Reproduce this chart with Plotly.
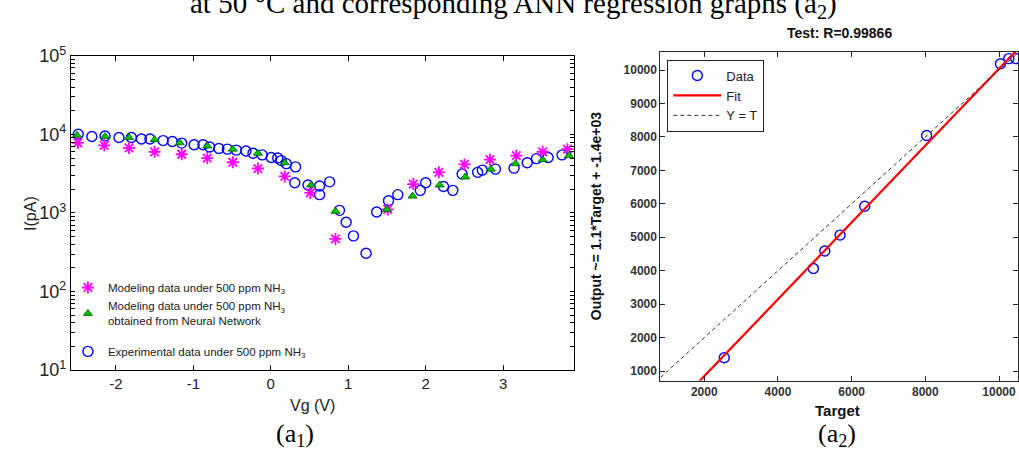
import plotly.graph_objects as go

W, H = 1019, 463

# ---------------- data: left panel (a1) ----------------
exp_v = [-2.486, -2.31, -2.14, -1.96, -1.80, -1.67, -1.56, -1.39, -1.27, -1.15, -0.99, -0.875,
         -0.79, -0.67, -0.56, -0.445, -0.32, -0.23, -0.11, 0.006, 0.09, 0.135, 0.20, 0.32, 0.31,
         0.48, 0.63, 0.63, 0.76, 0.887, 0.973, 1.067, 1.23, 1.367, 1.52, 1.64, 1.93, 2.00, 2.23,
         2.35, 2.47, 2.67, 2.73, 2.90, 3.14, 3.31, 3.43, 3.58, 3.76]
exp_I = [10050, 9400, 9550, 9140, 9140, 8750, 8750, 8340, 8110, 7750, 7390, 7390,
         6920, 6600, 6490, 6310, 6140, 5760, 5480, 5090, 5000, 4640, 4240, 3860, 2420,
         2270, 2200, 1710, 2490, 1080, 762, 511, 307, 1030, 1430, 1710, 1940, 2420, 2170,
         1940, 3140, 3290, 3510, 3610, 3720, 4350, 4910, 5090, 5480]

ann_v = [-2.50, -2.14, -1.83, -1.50, -1.175, -0.82, -0.49, -0.166, 0.18, 0.52, 0.835,
         1.50, 1.83, 2.18, 2.51, 2.84, 3.16, 3.51, 3.85]
ann_I = [9770, 9400, 9140, 8570, 7820, 7110, 6490, 5760, 4350, 2270, 1050,
         1110, 1640, 2270, 2870, 3610, 4240, 4770, 5380]

mod_v = [-2.49, -2.15, -1.83, -1.50, -1.15, -0.82, -0.49, -0.166, 0.18, 0.51, 0.835,
         1.51, 1.84, 2.17, 2.50, 2.83, 3.17, 3.51, 3.83]
mod_I = [7820, 7260, 6730, 6010, 5590, 5000, 4420, 3680, 2920, 1800, 467,
         1110, 2330, 3290, 4150, 4770, 5380, 6010, 6490]

left_xticks = [-2, -1, 0, 1, 2, 3]
left_xticktext = ["-2", "-1", "0", "1", "2", "3"]
left_yticks = [10, 100, 1000, 10000, 100000]
left_yticktext = ["10<sup>1</sup>", "10<sup>2</sup>", "10<sup>3</sup>", "10<sup>4</sup>", "10<sup>5</sup>"]
left_yminor = [m * d for d in (10, 100, 1000, 10000) for m in range(2, 10)]

# ---------------- data: right panel (a2) ----------------
target = [2542, 4962, 5271, 5686, 6355, 8035, 10038, 10266, 10455]
output = [1399, 4068, 4590, 5066, 5929, 8043, 10190, 10342, 10342]
fit_slope = 1.149
fit_intercept = -1449
right_xrange = [808, 10515]
right_yrange = [715, 10540]
right_xticks = [2000, 4000, 6000, 8000, 10000]
right_xticktext = ["2000", "4000", "6000", "8000", "10000"]
right_yticks = [1000, 2000, 3000, 4000, 5000, 6000, 7000, 8000, 9000, 10000]
right_yticktext = ["1000", "2000", "3000", "4000", "5000", "6000", "7000", "8000", "9000", "10000"]


def px(x):
    return x / W


def py(y):
    return 1 - y / H


fig = go.Figure()

NH3 = "NH<sub>3</sub>"
fig.add_trace(go.Scatter(
    x=exp_v, y=exp_I, mode="markers", xaxis="x", yaxis="y",
    name="Experimental data under 500 ppm " + NH3, legend="legend", legendgroup="g2",
    legendrank=3,
    marker=dict(symbol="circle-open", size=10, color="#0000ff",
                line=dict(color="#0000ff", width=1.4))))
fig.add_trace(go.Scatter(
    x=mod_v, y=mod_I, mode="markers", xaxis="x", yaxis="y",
    name="Modeling data under 500 ppm " + NH3, legend="legend", legendgroup="g1",
    legendrank=1,
    marker=dict(symbol="asterisk-open", size=10, color="#ff00ff",
                line=dict(color="#ff00ff", width=1.8))))
fig.add_trace(go.Scatter(
    x=ann_v, y=ann_I, mode="markers", xaxis="x", yaxis="y",
    name="Modeling data under 500 ppm " + NH3 + "<br>obtained from Neural Network",
    legend="legend", legendgroup="g1", legendrank=2,
    marker=dict(symbol="triangle-up", size=8, color="#00c000",
                line=dict(color="#006000", width=0.8))))

# right panel
fig.add_trace(go.Scatter(
    x=target, y=output, mode="markers", xaxis="x2", yaxis="y2", name="Data",
    legend="legend2",
    marker=dict(symbol="circle-open", size=10, color="#0000ff",
                line=dict(color="#0000ff", width=1.4))))
fig.add_trace(go.Scatter(
    x=right_xrange, y=[fit_slope * t + fit_intercept for t in right_xrange],
    mode="lines", xaxis="x2", yaxis="y2", name="Fit", legend="legend2",
    line=dict(color="#ff0000", width=2.2)))
fig.add_trace(go.Scatter(
    x=right_xrange, y=right_xrange, mode="lines", xaxis="x2", yaxis="y2",
    name="Y = T", legend="legend2",
    line=dict(color="#333333", width=1, dash="4px,3px")))

axis_common = dict(showgrid=False, zeroline=False, showline=True, mirror="ticks",
                   ticks="inside")

fig.update_layout(
    width=W, height=H,
    margin=dict(l=0, r=0, t=0, b=0),
    paper_bgcolor="white", plot_bgcolor="white",
    font=dict(family="Liberation Sans, Arial", color="black"),
    xaxis=dict(domain=[px(71), px(575)], range=[-2.58, 3.92], anchor="y",
               tickvals=left_xticks, ticktext=left_xticktext, ticklen=5,
               linecolor="black", tickcolor="black",
               linewidth=1, tickfont=dict(size=15, color="#222"), **axis_common),
    yaxis=dict(domain=[py(376), py(46)], type="log", range=[1, 5], anchor="x",
               tickvals=left_yticks + left_yminor,
               ticktext=left_yticktext + [""] * len(left_yminor), ticklen=4,
               linecolor="black", tickcolor="black", linewidth=1,
               tickfont=dict(size=18, color="#222"),
               **axis_common),
    xaxis2=dict(domain=[px(661), 1.0], range=right_xrange, anchor="y2",
                tickvals=right_xticks, ticktext=right_xticktext, ticklen=5,
                linecolor="#262626", tickcolor="#262626", linewidth=1,
                tickfont=dict(size=12, color="#333", weight="bold"), **axis_common),
    yaxis2=dict(domain=[py(387), py(42)], range=right_yrange, anchor="x2",
                tickvals=right_yticks, ticktext=right_yticktext, ticklen=5,
                linecolor="#262626", tickcolor="#262626", linewidth=1,
                tickfont=dict(size=12, color="#333", weight="bold"), **axis_common),
    legend=dict(x=px(68), y=py(274), xanchor="left", yanchor="top",
                bgcolor="rgba(0,0,0,0)", borderwidth=0,
                font=dict(size=11.5, color="#222"), traceorder="grouped",
                tracegroupgap=12, itemwidth=30),
    legend2=dict(x=px(668), y=py(50), xanchor="left", yanchor="top",
                 bgcolor="white", bordercolor="#222", borderwidth=1,
                 font=dict(size=13, color="#222"), itemwidth=48),
)

ann = []
# cut-off caption at the top
ann.append(dict(text="at 50 \u00b0C and corresponding ANN regression graphs (a<sub>2</sub>)",
                x=px(514), y=py(-7), xref="paper", yref="paper", showarrow=False,
                xanchor="center", yanchor="middle",
                font=dict(family="Liberation Serif, Times New Roman", size=29, color="black")))
# left labels
ann.append(dict(text="Vg (V)", x=px(313), y=py(413), xref="paper", yref="paper",
                showarrow=False, xanchor="center", yanchor="middle",
                font=dict(size=16, color="#222")))
ann.append(dict(text="I(pA)", x=px(31), y=py(211), xref="paper", yref="paper",
                showarrow=False, textangle=-90, xanchor="center", yanchor="middle",
                font=dict(size=16, color="#222")))
# right labels
ann.append(dict(text="Test: R=0.99866", x=px(840), y=py(22), xref="paper", yref="paper",
                showarrow=False, xanchor="center", yanchor="middle",
                font=dict(size=14, color="#111", weight="bold")))
ann.append(dict(text="Target", x=px(838), y=py(418), xref="paper", yref="paper",
                showarrow=False, xanchor="center", yanchor="middle",
                font=dict(size=15, color="#111", weight="bold")))
ann.append(dict(text="Output ~= 1.1*Target + -1.4e+03", x=px(596), y=py(214),
                xref="paper", yref="paper", showarrow=False, textangle=-90,
                xanchor="center", yanchor="middle",
                font=dict(size=14, color="#111", weight="bold")))
# panel labels
ann.append(dict(text="(a<sub>1</sub>)", x=px(295), y=py(444), xref="paper", yref="paper",
                showarrow=False, xanchor="center", yanchor="middle",
                font=dict(family="Liberation Serif, Times New Roman", size=26, color="black")))
ann.append(dict(text="(a<sub>2</sub>)", x=px(838), y=py(444), xref="paper", yref="paper",
                showarrow=False, xanchor="center", yanchor="middle",
                font=dict(family="Liberation Serif, Times New Roman", size=26, color="black")))
fig.update_layout(annotations=ann)

fig.write_html("out.html")
